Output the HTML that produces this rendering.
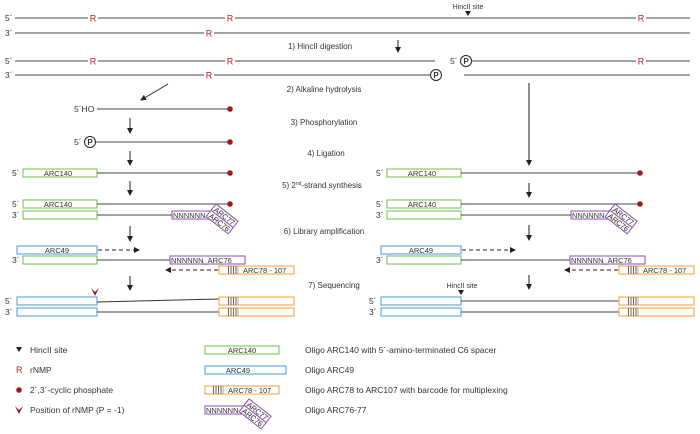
<!DOCTYPE html>
<html><head><meta charset="utf-8"><style>
html,body{margin:0;padding:0;background:#fff;}
svg{display:block;font-family:"Liberation Sans",Arial,sans-serif;}
</style></head><body>
<svg width="700" height="434" viewBox="0 0 700 434" xmlns="http://www.w3.org/2000/svg">
<defs>
<marker id="ah" markerWidth="6" markerHeight="6" refX="5" refY="3" orient="auto" markerUnits="userSpaceOnUse"><path d="M0,0 L6,3 L0,6 z" fill="#222"/></marker>
<g id="tilt">
 <rect x="0" y="0" width="28" height="8" fill="#fff" stroke="#8e4fb0" stroke-width="1"/>
 <rect x="0" y="8" width="28" height="8" fill="#fff" stroke="#8e4fb0" stroke-width="1"/>
 <text x="14" y="7" font-size="7.5" text-anchor="middle" fill="#222">ARC77</text>
 <text x="14" y="15" font-size="7.5" text-anchor="middle" fill="#222">ARC76</text>
</g>
<g id="bar">
 <rect x="0" y="0" width="1" height="8" fill="#666"/><rect x="2.5" y="0" width="1" height="8" fill="#666"/><rect x="5" y="0" width="1" height="8" fill="#666"/><rect x="7.5" y="0" width="1" height="8" fill="#666"/><rect x="9.5" y="0" width="1" height="8" fill="#aaa"/>
</g>
</defs>
<g font-size="8.5" fill="#333">
<text x="5" y="21">5´</text><text x="5" y="36">3´</text>
<line x1="15" y1="18" x2="690" y2="18" stroke="#444"/>
<line x1="15" y1="33" x2="690" y2="33" stroke="#444"/>
<g fill="#b22" font-size="9" text-anchor="middle">
<rect x="88" y="13" width="10" height="10" fill="#fff"/><text x="93" y="21.5">R</text>
<rect x="225" y="13" width="10" height="10" fill="#fff"/><text x="230" y="21.5">R</text>
<rect x="204" y="28" width="10" height="10" fill="#fff"/><text x="209" y="36.5">R</text>
<rect x="636" y="13" width="10" height="10" fill="#fff"/><text x="641" y="21.5">R</text>
</g>
<text x="468" y="9" font-size="7" text-anchor="middle">HincII site</text>
<path d="M465,11 L471,11 L468,16 z" fill="#222"/>
<text x="5" y="64">5´</text><text x="5" y="78">3´</text>
<line x1="15" y1="61" x2="435" y2="61" stroke="#444"/>
<line x1="15" y1="75" x2="430" y2="75" stroke="#444"/>
<circle cx="436" cy="75" r="5.5" fill="#fff" stroke="#222"/><text x="436" y="78" font-size="8" font-weight="bold" text-anchor="middle">P</text>
<text x="450" y="64">5´</text>
<circle cx="466" cy="61" r="5.5" fill="#fff" stroke="#222"/><text x="466" y="64" font-size="8" font-weight="bold" text-anchor="middle">P</text>
<line x1="472" y1="61" x2="690" y2="61" stroke="#444"/>
<line x1="464" y1="75" x2="690" y2="75" stroke="#444"/>
<g fill="#b22" font-size="9" text-anchor="middle">
<rect x="88" y="56" width="10" height="10" fill="#fff"/><text x="93" y="64.5">R</text>
<rect x="225" y="56" width="10" height="10" fill="#fff"/><text x="230" y="64.5">R</text>
<rect x="204" y="70" width="10" height="10" fill="#fff"/><text x="209" y="78.5">R</text>
<rect x="636" y="56" width="10" height="10" fill="#fff"/><text x="641" y="64.5">R</text>
</g>
<g font-size="8" text-anchor="middle">
<text x="320" y="49">1) HincII digestion</text>
<text x="324" y="92">2) Alkaline hydrolysis</text>
<text x="324" y="125">3) Phosphorylation</text>
<text x="326" y="156">4) Ligation</text>
<text x="322" y="188">5) 2<tspan font-size="5" dy="-3">nd</tspan><tspan dy="3">-strand synthesis</tspan></text>
<text x="324" y="234">6) Library amplification</text>
<text x="334" y="288">7) Sequencing</text>
</g>
<g stroke="#222" fill="none">
<line x1="398" y1="40" x2="398" y2="52" marker-end="url(#ah)"/>
<line x1="168" y1="84" x2="141" y2="100" marker-end="url(#ah)"/>
<line x1="529" y1="83" x2="529" y2="165" marker-end="url(#ah)"/>
<line x1="130" y1="118" x2="130" y2="133" marker-end="url(#ah)"/>
<line x1="130" y1="151" x2="130" y2="165" marker-end="url(#ah)"/>
<line x1="130" y1="181" x2="130" y2="195" marker-end="url(#ah)"/>
<line x1="529" y1="183" x2="529" y2="197" marker-end="url(#ah)"/>
<line x1="130" y1="226" x2="130" y2="241" marker-end="url(#ah)"/>
<line x1="529" y1="225" x2="529" y2="240" marker-end="url(#ah)"/>
<line x1="130" y1="276" x2="130" y2="290" marker-end="url(#ah)"/>
<line x1="529" y1="275" x2="529" y2="289" marker-end="url(#ah)"/>
<line x1="98" y1="250" x2="139" y2="250" stroke-dasharray="4,3" marker-end="url(#ah)"/>
<line x1="218" y1="270" x2="166" y2="270" stroke-dasharray="4,3" marker-end="url(#ah)"/>
<line x1="462" y1="250" x2="515" y2="250" stroke-dasharray="4,3" marker-end="url(#ah)"/>
<line x1="618" y1="270" x2="565" y2="270" stroke-dasharray="4,3" marker-end="url(#ah)"/>
</g>
<text x="74" y="112">5´HO</text>
<line x1="97" y1="109" x2="230" y2="109" stroke="#444"/><circle cx="230" cy="109" r="2.8" fill="#a01a1a"/>
<text x="74" y="145">5´</text>
<circle cx="90" cy="142" r="5.5" fill="#fff" stroke="#222"/><text x="90" y="145" font-size="8" font-weight="bold" text-anchor="middle">P</text>
<line x1="96" y1="142" x2="230" y2="142" stroke="#444"/><circle cx="230" cy="142" r="2.8" fill="#a01a1a"/>
<text x="12" y="176">5´</text>
<rect x="23" y="169" width="74" height="8" fill="#fff" stroke="#6cc24a"/><text x="58" y="176" font-size="7.5" text-anchor="middle">ARC140</text>
<line x1="97" y1="173" x2="230" y2="173" stroke="#444"/><circle cx="230" cy="173" r="2.8" fill="#a01a1a"/>
<text x="376" y="176">5´</text>
<rect x="387" y="169" width="74" height="8" fill="#fff" stroke="#6cc24a"/><text x="422" y="176" font-size="7.5" text-anchor="middle">ARC140</text>
<line x1="461" y1="173" x2="640" y2="173" stroke="#444"/><circle cx="640" cy="173" r="2.8" fill="#a01a1a"/>
<text x="12" y="207">5´</text><text x="12" y="218">3´</text>
<rect x="23" y="200" width="74" height="8" fill="#fff" stroke="#6cc24a"/><text x="58" y="207" font-size="7.5" text-anchor="middle">ARC140</text>
<line x1="97" y1="204" x2="230" y2="204" stroke="#444"/><circle cx="230" cy="204" r="2.8" fill="#a01a1a"/>
<rect x="23" y="211" width="74" height="8" fill="#fff" stroke="#6cc24a"/>
<line x1="97" y1="215" x2="172" y2="215" stroke="#444"/>
<rect x="172" y="211" width="43" height="8" fill="#fff" stroke="#8e4fb0"/><text x="173" y="218" font-size="7.5">NNNNNN</text>
<use href="#tilt" transform="translate(216,204) rotate(38)"/>
<text x="376" y="207">5´</text><text x="376" y="218">3´</text>
<rect x="387" y="200" width="74" height="8" fill="#fff" stroke="#6cc24a"/><text x="422" y="207" font-size="7.5" text-anchor="middle">ARC140</text>
<line x1="461" y1="204" x2="640" y2="204" stroke="#444"/><circle cx="640" cy="204" r="2.8" fill="#a01a1a"/>
<rect x="387" y="211" width="74" height="8" fill="#fff" stroke="#6cc24a"/>
<line x1="461" y1="215" x2="571" y2="215" stroke="#444"/>
<rect x="571" y="211" width="43" height="8" fill="#fff" stroke="#8e4fb0"/><text x="572" y="218" font-size="7.5">NNNNNN</text>
<use href="#tilt" transform="translate(615,204) rotate(38)"/>
<rect x="17" y="246" width="80" height="8" fill="#fff" stroke="#4a9ad8"/><text x="57" y="253" font-size="7.5" text-anchor="middle">ARC49</text>
<text x="12" y="263">3´</text>
<rect x="23" y="256" width="74" height="8" fill="#fff" stroke="#6cc24a"/>
<line x1="97" y1="260" x2="170" y2="260" stroke="#444"/>
<rect x="170" y="256" width="75" height="8" fill="#fff" stroke="#8e4fb0"/><text x="171" y="263" font-size="7.5">NNNNNN_ARC76</text>
<rect x="219" y="266" width="75" height="8" fill="#fff" stroke="#f5a030"/><use href="#bar" transform="translate(228,266)"/><text x="243" y="273" font-size="7.5">ARC78 - 107</text>
<rect x="381" y="246" width="80" height="8" fill="#fff" stroke="#4a9ad8"/><text x="421" y="253" font-size="7.5" text-anchor="middle">ARC49</text>
<text x="376" y="263">3´</text>
<rect x="387" y="256" width="74" height="8" fill="#fff" stroke="#6cc24a"/>
<line x1="461" y1="260" x2="570" y2="260" stroke="#444"/>
<rect x="570" y="256" width="75" height="8" fill="#fff" stroke="#8e4fb0"/><text x="571" y="263" font-size="7.5">NNNNNN_ARC76</text>
<rect x="619" y="266" width="75" height="8" fill="#fff" stroke="#f5a030"/><use href="#bar" transform="translate(628,266)"/><text x="643" y="273" font-size="7.5">ARC78 - 107</text>
<path d="M91,288 L95,292 L99,288 L95,296 z" fill="#a01a1a"/>
<text x="5" y="304">5´</text><text x="5" y="315">3´</text>
<rect x="17" y="297" width="80" height="8" fill="#fff" stroke="#4a9ad8"/>
<rect x="17" y="308" width="80" height="8" fill="#fff" stroke="#4a9ad8"/>
<line x1="97" y1="302" x2="219" y2="299" stroke="#333"/>
<line x1="97" y1="312" x2="219" y2="312" stroke="#444"/>
<rect x="219" y="297" width="75" height="8" fill="#fff" stroke="#f5a030"/><use href="#bar" transform="translate(228,297)"/>
<rect x="219" y="308" width="75" height="8" fill="#fff" stroke="#f5a030"/><use href="#bar" transform="translate(228,308)"/>
<text x="462" y="288" font-size="7" text-anchor="middle">HincII site</text>
<path d="M458,290 L464,290 L461,295 z" fill="#222"/>
<text x="369" y="304">5´</text><text x="369" y="315">3´</text>
<rect x="381" y="297" width="80" height="8" fill="#fff" stroke="#4a9ad8"/>
<rect x="381" y="308" width="80" height="8" fill="#fff" stroke="#4a9ad8"/>
<line x1="461" y1="301" x2="619" y2="301" stroke="#444"/>
<line x1="461" y1="312" x2="619" y2="312" stroke="#444"/>
<rect x="619" y="297" width="75" height="8" fill="#fff" stroke="#f5a030"/><use href="#bar" transform="translate(628,297)"/>
<rect x="619" y="308" width="75" height="8" fill="#fff" stroke="#f5a030"/><use href="#bar" transform="translate(628,308)"/>
<path d="M16,347 L22,347 L19,352 z" fill="#222"/><text x="30" y="353">HincII site</text>
<text x="16" y="373" fill="#b22" font-size="9">R</text><text x="30" y="373">rNMP</text>
<circle cx="19" cy="390" r="2.8" fill="#a01a1a"/><text x="30" y="393">2´,3´-cyclic phosphate</text>
<path d="M15,406 L19,410 L23,406 L19,414 z" fill="#a01a1a"/><text x="30" y="413">Position of rNMP (P = -1)</text>
<rect x="205" y="346" width="74" height="8" fill="#fff" stroke="#6cc24a"/><text x="242" y="353" font-size="7.5" text-anchor="middle">ARC140</text>
<rect x="205" y="366" width="81" height="8" fill="#fff" stroke="#4a9ad8"/><text x="238" y="373" font-size="7.5" text-anchor="middle">ARC49</text>
<rect x="205" y="386" width="74" height="8" fill="#fff" stroke="#f5a030"/><use href="#bar" transform="translate(213,386)"/><text x="228" y="393" font-size="7.5">ARC78 - 107</text>
<rect x="205" y="406" width="43" height="8" fill="#fff" stroke="#8e4fb0"/><text x="206" y="413" font-size="7.5">NNNNNN</text>
<use href="#tilt" transform="translate(249,399) rotate(38)"/>
<text x="305" y="353">Oligo ARC140 with 5´-amino-terminated C6 spacer</text>
<text x="305" y="373">Oligo ARC49</text>
<text x="305" y="393">Oligo ARC78 to ARC107 with barcode for multiplexing</text>
<text x="305" y="413">Oligo ARC76-77</text>
</g>
</svg>
</body></html>
